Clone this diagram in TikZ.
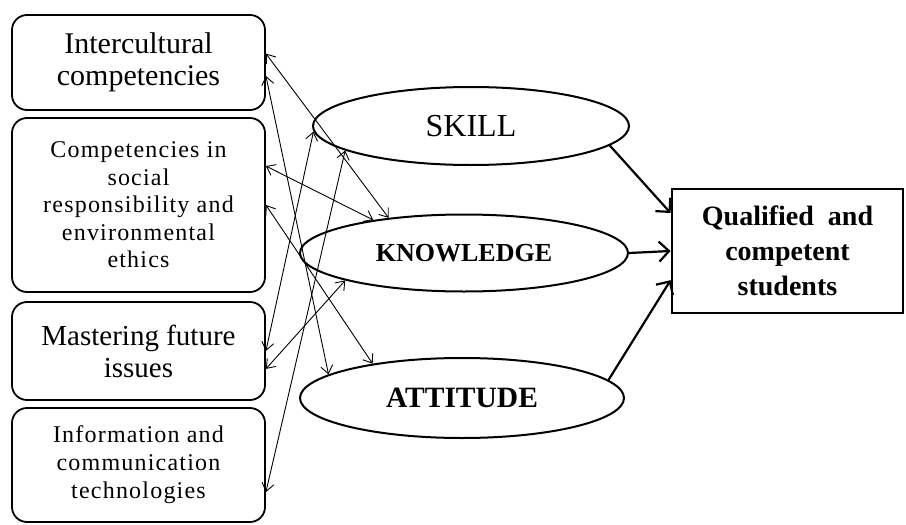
\documentclass[tikz,border=0pt]{standalone}
\usepackage{fontspec}
\setmainfont{Liberation Serif}
\newfontfamily\spacedfont[LetterSpace=5]{Liberation Serif}
\usepackage{tikz}
\usetikzlibrary{arrows.meta,shapes.geometric}
\tikzset{
    every node/.style={align=center,},
    factor/.style={draw,rectangle,rounded corners=15pt,line width=1.8pt,minimum width=253pt,inner sep=0pt,},
    aspect/.style={draw,ellipse,line width=2pt,inner sep=0pt,},
    result/.style={draw,rectangle,line width=2.8pt,minimum width=231pt,minimum height=124pt,inner sep=0pt,},
    link/.style={<->,>={Straight Barb[length=8pt,width=12pt]},line width=0.9pt,},
    lead/.style={->,>={Straight Barb[length=10pt,width=20pt]},line width=2.2pt,line join=round,},
}

\begin{document}
\begin{tikzpicture}[x=1pt,y=-1pt]
                \useasboundingbox (0,0) rectangle (906,525);

                \node[factor,minimum height=95pt,font=\fontsize{30}{32}\selectfont] (intercultural) at (138.5,62.5)
                    {Intercultural\\competencies};
                \node[factor,minimum height=174pt,font=\spacedfont\fontsize{24}{27.5}\selectfont] (social) at (138.5,205)
                    {Competencies in\\social\\responsibility and\\environmental\\ethics};
                \node[factor,minimum height=98pt,font=\fontsize{29}{32}\selectfont] (future) at (138.5,351)
                    {Mastering future\\issues};
                \node[factor,minimum height=114pt,font=\spacedfont\fontsize{24}{28}\selectfont] (ict) at (138.5,465)
                    {Information and\\communication\\technologies};

                \node[aspect,minimum width=316pt,minimum height=78pt,font=\fontsize{32}{34}\selectfont] (skill) at (471,126)
                    {SKILL};
                \node[aspect,minimum width=328pt,minimum height=77pt,font=\fontsize{26}{28}\selectfont\bfseries] (knowledge) at (464,253)
                    {KNOWLEDGE};
                \node[aspect,minimum width=324pt,minimum height=80pt,font=\fontsize{29.5}{31}\selectfont\bfseries] (attitude) at (462,398)
                    {ATTITUDE};

                \node[result,font=\fontsize{28}{35}\selectfont\bfseries] (qualified) at (787.5,251)
                    {Qualified\ \ and\\competent\\students};

                \draw[link] (intercultural.4.7) to (knowledge.155);
                \draw[link] (intercultural.354.4) to (attitude.170);
                \draw[link] (social.17.1) to (knowledge.160);
                \draw[link] (social.east) to (attitude.159);
                \draw[link] (future.0.5) to (skill.182);
                \draw[link] (future.352.8) to (knowledge.193.4);
                \draw[link] (ict.348.8) to (skill.191);

                \draw[lead] (skill.352) to (qualified.162.7);
                \draw[lead] (knowledge.east) to (qualified.west);
                \draw[lead] (attitude.7) to (qualified.194.1);
            \end{tikzpicture}
\end{document}
